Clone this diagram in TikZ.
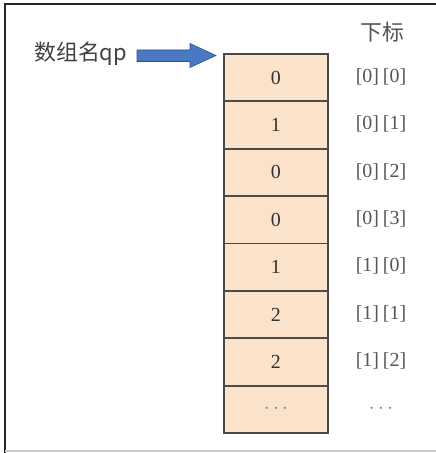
\documentclass[tikz,border=0pt]{standalone}
\usepackage{fontspec}
\setmainfont{Liberation Serif}
\newfontfamily\cjk{Noto Sans CJK SC}
\definecolor{cellfill}{HTML}{FBE3CB}
\definecolor{celldraw}{HTML}{4A4A4A}
\definecolor{arrowfill}{HTML}{4A78C2}
\definecolor{arrowdraw}{HTML}{2F528F}
\definecolor{labelgray}{HTML}{555555}
\tikzset{
  cell/.style={draw=celldraw, line width=1.8pt, fill=cellfill, minimum width=104bp, minimum height=47.4bp, inner sep=0pt, font=\fontsize{20}{20}\selectfont, text=black!80, anchor=north west},
  idx/.style={font=\fontsize{20}{20}\selectfont, text=labelgray, inner sep=0pt},
  blockarrow/.style={draw=arrowdraw, fill=arrowfill, line width=0.6pt, line join=miter}
}
\newcommand{\ix}[2]{[#1]\hspace{4bp}[#2]}
\begin{document}
\begin{tikzpicture}[x=1bp,y=-1bp]
\fill[white] (0,0) rectangle (436,453);
\useasboundingbox (0,0) rectangle (436,453);
\draw[line width=2pt, black!85] (5,453) -- (5,4) -- (436,4);
\draw[line width=1.5pt, black!20] (5,451) -- (436,451);
\node[font=\cjk\fontsize{22}{22}\selectfont, text=labelgray] (hdr) at (382,32) {下标};
\node[font=\cjk\fontsize{22}{22}\selectfont, text=black!75, anchor=west, inner sep=0pt] (name) at (34,54) {数组名qp};
\foreach \v/\l [count=\i from 0] in {0/{\ix{0}{0}},1/{\ix{0}{1}},0/{\ix{0}{2}},0/{\ix{0}{3}},1/{\ix{1}{0}},2/{\ix{1}{1}},2/{\ix{1}{2}},{\textcolor{black!50}{$\cdots$}}/{\textcolor{black!50}{$\cdots$}}} {
  \node[cell] (c\i) at (223,{53+47.4*\i}) {\v};
  \node[idx] (l\i) at (381,{76.7+47.4*\i}) {\l};
}
\path[blockarrow] (137,50) -- (190,50) -- (190,43.5) -- (216,55.5) -- (190,67.5) -- (190,61.5) -- (137,61.5) -- cycle;
\coordinate (arrtip) at (216,55.5);
\end{tikzpicture}
\end{document}
